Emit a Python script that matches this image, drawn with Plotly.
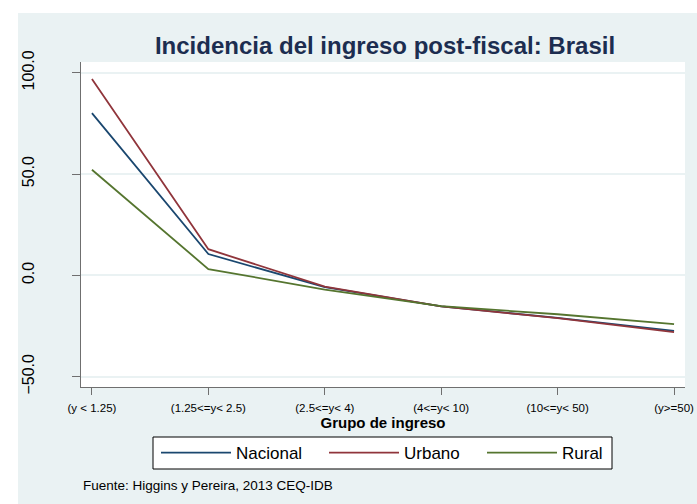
import plotly.graph_objects as go

categories = ["(y < 1.25)", "(1.25<=y< 2.5)", "(2.5<=y< 4)", "(4<=y< 10)", "(10<=y< 50)", "(y>=50)"]
nacional = [80.1, 10.5, -5.8, -15.3, -21.0, -27.4]
urbano = [96.9, 12.9, -5.6, -15.3, -21.1, -28.0]
rural = [52.1, 3.1, -7.0, -15.2, -19.2, -24.1]
y_ticks = [-50, 0, 50, 100]

x_pos = list(range(len(categories)))

W, H = 697, 504
L, R, T, B = 81, 12, 62, 117
pw, ph = W - L - R, H - T - B

def px_x(p):
    return (p - L) / pw

def px_y(p):
    return (H - B - p) / ph

panel = "#eaf2f3"

series = [("Nacional", nacional, "#1a476f", "legend", 156),
          ("Urbano", urbano, "#90353b", "legend2", 324),
          ("Rural", rural, "#55752f", "legend3", 482)]

fig = go.Figure()
for name, vals, col, leg, _ in series:
    fig.add_trace(go.Scatter(x=x_pos, y=vals, mode="lines", name=name, legend=leg,
                             line=dict(color=col, width=1.8)))

legend_common = dict(orientation="h", xanchor="left", y=px_y(453), yanchor="middle",
                     bgcolor="rgba(0,0,0,0)", borderwidth=0,
                     font=dict(size=17), itemwidth=70)

layout_legends = {}
for name, vals, col, leg, lx in series:
    layout_legends[leg] = dict(legend_common, x=px_x(lx))

fig.update_layout(
    width=W, height=H,
    margin=dict(l=L, r=R, t=T, b=B),
    paper_bgcolor=panel,
    plot_bgcolor="white",
    font=dict(family="Liberation Sans, Arial, sans-serif", color="black"),
    title=dict(text="<b>Incidencia del ingreso post-fiscal: Brasil</b>",
               font=dict(size=24, color="#1c2d50"),
               x=385 / W, xref="container", xanchor="center",
               y=1 - 46 / H, yref="container", yanchor="middle"),
    showlegend=True,
    shapes=[
        dict(type="rect", xref="paper", yref="paper", layer="below",
             x0=px_x(0), x1=px_x(W), y0=px_y(0), y1=px_y(13),
             fillcolor="white", line=dict(width=0)),
        dict(type="rect", xref="paper", yref="paper", layer="below",
             x0=px_x(0), x1=px_x(18), y0=px_y(H), y1=px_y(0),
             fillcolor="white", line=dict(width=0)),
        dict(type="rect", xref="paper", yref="paper", layer="below",
             x0=px_x(153), x1=px_x(612), y0=px_y(469), y1=px_y(437),
             fillcolor="white", line=dict(color="black", width=1)),
    ],
    annotations=[
        dict(text="Fuente: Higgins y Pereira, 2013 CEQ-IDB", xref="paper", yref="paper",
             x=px_x(81), y=px_y(486), xanchor="left", yanchor="middle",
             showarrow=False, font=dict(size=13.5)),
    ],
    **layout_legends,
)

fig.update_xaxes(
    range=[-0.094, 5.094], tickvals=x_pos, ticktext=categories,
    showgrid=False, zeroline=False, automargin=False,
    showline=True, linecolor="#6f6f6f", linewidth=1,
    ticks="outside", ticklen=7, tickcolor="#6f6f6f",
    tickfont=dict(size=11.5), ticklabelstandoff=3,
    title=dict(text="<b>Grupo de ingreso</b>", font=dict(size=15), standoff=0),
)
fig.update_yaxes(
    range=[-55.1, 105.3], tickvals=y_ticks, tickformat=".1f",
    showgrid=True, gridcolor=panel, gridwidth=1.5, zeroline=False, automargin=False,
    showline=True, linecolor="#6f6f6f", linewidth=1,
    ticks="outside", ticklen=8, tickcolor="#6f6f6f",
    tickangle=-90, tickfont=dict(size=16), ticklabelstandoff=32,
)

fig.write_html("out.html", config={"displayModeBar": False},
               post_script="document.body.style.margin='0';")
